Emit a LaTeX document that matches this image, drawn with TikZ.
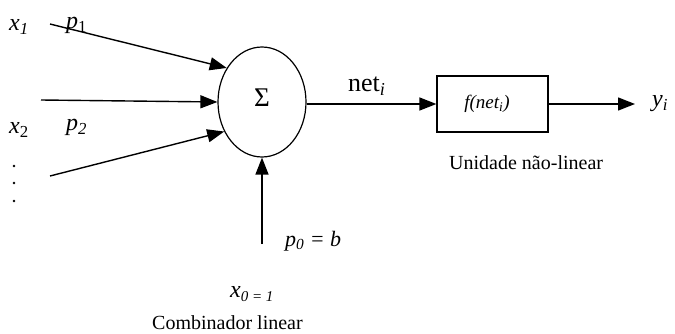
\documentclass[tikz,border=0pt]{standalone}
\usepackage{fontspec}
\setmainfont{Liberation Serif}
\usetikzlibrary{arrows.meta, positioning, shapes.geometric}

\begin{document}
\begin{tikzpicture}[
  x=1pt, y=-1pt,
  font=\fontsize{20}{24}\selectfont,
  sig/.style={-{Triangle[length=17pt, width=13pt]}, line width=1.4pt},
  lbl/.style={inner sep=0pt, anchor=base west},
  var/.style={lbl, font=\fontsize{24}{28}\selectfont\itshape},
  small/.style={font=\fontsize{19}{22}\selectfont\itshape},
]
  \useasboundingbox (0,0) rectangle (675,334);

  % Combinador (soma) e unidade nao-linear
  \node[draw, ellipse, line width=1.2pt, minimum width=88pt, minimum height=110pt, inner sep=0pt] (sum) at (262,102) {};
  \node[font=\fontsize{27}{30}\selectfont] (sigma) at (262,98) {Σ};
  \node[draw, line width=1.2pt, minimum width=111pt, minimum height=56pt, inner sep=0pt] (act) at (492.5,104) {};
  \node[small] (fnet) at (487,104) {f(net\textsubscript{i})};

  % pontas livres das entradas
  \coordinate (in1) at (50,24);
  \coordinate (in2) at (41,100);
  \coordinate (in3) at (50,176);
  \coordinate (in0) at (262,244);
  \coordinate (out) at (635,104);

  \draw[sig] (in1) -- (sum.136);
  \draw[sig] (in2) -- (sum.west);
  \draw[sig] (in3) -- (sum.218);
  \draw[sig] (in0) -- (sum.south);
  \draw[sig] (sum.east |- act.west) -- (act.west);
  \draw[sig] (act.east) -- (out);

  % rotulos
  \node[var] (x1) at (9,31) {x\textsubscript{1}};
  \node[var] (p1) at (66,29) {p\textsubscript{\upshape 1}};
  \node[var] (x2) at (9,134) {x\textsubscript{\upshape 2}};
  \node[var] (p2) at (66,131) {p\textsubscript{2}};
  \foreach \yy in {166,183,201} \fill (14,\yy) circle (1.4pt);
  \node[lbl, font=\fontsize{26}{30}\selectfont] (neti) at (348,92) {net\textsubscript{\textit{i}}};
  \node[var] (yi) at (652,107) {y\textsubscript{i}};
  \node[lbl, font=\fontsize{22}{26}\selectfont\itshape] (p0) at (285,246) {p\textsubscript{0} = b};
  \node[lbl, font=\fontsize{24}{28}\selectfont\itshape] (x0) at (230,297) {x\raisebox{-4pt}{\fontsize{15}{18}\selectfont 0 = 1}};
  \node[lbl] (nl) at (449,170) {Unidade não-linear};
  \node[lbl] (cl) at (152,329) {Combinador linear};
\end{tikzpicture}
\end{document}
